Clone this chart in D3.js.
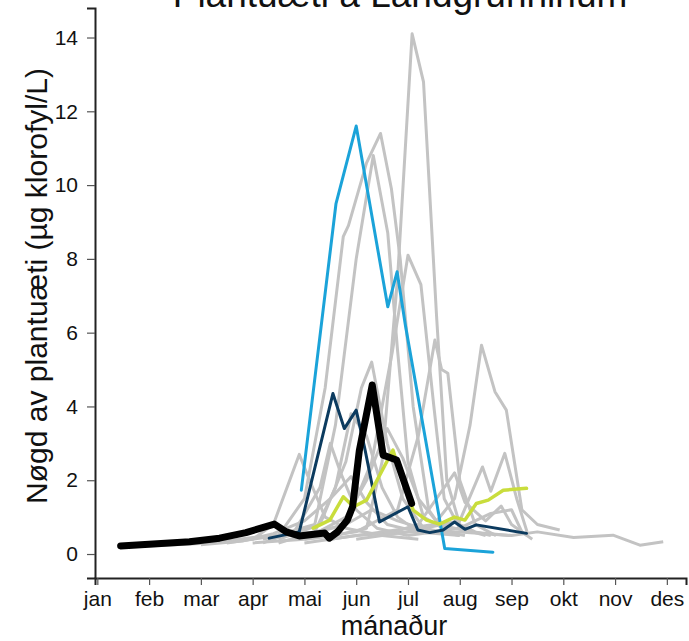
<!DOCTYPE html>
<html><head><meta charset="utf-8">
<script src="https://cdn.jsdelivr.net/npm/d3@7"></script>
<style>
html,body{margin:0;padding:0;background:#fff;}
svg{display:block;font-family:"Liberation Sans",Arial,sans-serif;}
</style></head>
<body>
<svg id="chart" width="689" height="641"></svg>
<script>
const title = "Plantuæti á Landgrunninum";
const yTitle = "Nøgd av plantuæti (µg klorofyl/L)";
const xTitle = "mánaður";
const monthLabels = ["jan","feb","mar","apr","mai","jun","jul","aug","sep","okt","nov","des"];
const yTicks = [0,2,4,6,8,10,12,14];

// series: [month (1 = jan), chlorophyll]
const gray01 = [[4.0,0.3],[5.0,0.4],[5.6,0.5],[6.2,0.7],[6.5,2.5],[6.8,7.5],[7.08,14.1],[7.3,12.8],[7.55,6.5],[7.75,2.0],[8.0,0.8],[8.3,0.6],[8.6,0.5]];
const gray02 = [[3.5,0.3],[4.5,0.5],[5.0,1.5],[5.4,4.5],[5.75,8.6],[5.85,8.9],[6.2,10.6],[6.47,11.4],[6.68,9.9],[6.85,8.0],[7.1,4.0],[7.4,1.2],[7.7,0.6],[8.1,0.5]];
const gray03 = [[4.2,0.4],[5.2,0.8],[5.6,3.5],[6.0,8.0],[6.33,10.8],[6.61,8.7],[6.8,5.5],[7.0,2.5],[7.3,1.0],[7.8,0.6]];
const gray04 = [[5.0,0.5],[5.8,0.8],[6.3,2.5],[6.7,5.5],[7.0,8.1],[7.25,7.3],[7.5,4.0],[7.7,1.5],[8.0,0.7],[8.5,0.5]];
const gray05 = [[5.5,0.4],[6.5,0.6],[7.5,0.8],[7.9,1.5],[8.2,3.5],[8.42,5.66],[8.68,4.4],[8.9,3.9],[9.2,1.2],[9.5,0.8],[9.93,0.65]];
const gray06 = [[5.0,0.3],[6.0,0.5],[7.0,0.6],[8.0,0.6],[9.0,0.5],[9.5,0.6],[10.2,0.45],[10.96,0.51],[11.48,0.24],[11.93,0.33]];
const gray07 = [[3.0,0.3],[4.0,0.4],[4.4,0.8],[4.9,2.7],[5.1,2.0],[5.4,1.0],[5.8,0.7],[6.5,0.5],[7.2,0.4]];
const gray08 = [[5.0,0.4],[6.0,0.6],[6.8,1.2],[7.2,3.2],[7.52,5.8],[7.65,5.0],[7.77,4.9],[8.0,2.0],[8.3,0.8],[8.7,0.5]];
const gray09 = [[6.0,0.4],[7.0,0.6],[8.0,0.9],[8.44,2.36],[8.6,1.7],[8.87,2.73],[9.1,1.5],[9.3,0.6]];
const gray10 = [[4.5,0.4],[5.3,0.8],[5.8,2.5],[6.1,4.5],[6.3,5.2],[6.6,3.0],[6.9,1.5],[7.3,0.7],[8.0,0.5]];
const gray11 = [[4.5,0.3],[5.2,0.6],[5.6,1.8],[5.9,3.8],[6.2,3.2],[6.5,1.8],[6.8,1.0],[7.2,0.6],[8.0,0.5]];
const gray12 = [[5.0,0.4],[5.8,1.0],[6.2,2.0],[6.6,3.4],[6.9,2.6],[7.2,1.5],[7.6,0.8],[8.2,0.6],[9.0,0.5]];
const gray13 = [[4.2,0.3],[4.8,0.6],[5.3,1.8],[5.5,3.0],[5.7,2.2],[6.0,1.2],[6.4,0.7],[7.0,0.5]];
const gray14 = [[6.5,0.5],[7.2,0.8],[7.6,1.6],[7.9,2.2],[8.1,1.4],[8.5,0.9],[8.8,1.3],[9.0,0.8],[9.3,0.5]];
const gray15 = [[7.0,0.5],[8.0,0.7],[8.6,1.1],[9.0,1.2],[9.2,0.6],[9.4,0.4]];
const gray16 = [[1.6,0.2],[2.5,0.25],[3.2,0.3],[4.0,0.45],[4.6,0.5],[5.2,0.6],[5.8,0.8],[6.3,1.2],[6.8,0.9],[7.5,0.6]];
const gray17 = [[3.0,0.25],[3.8,0.35],[4.4,0.55],[5.0,0.9],[5.5,1.5],[5.9,2.1],[6.2,1.4],[6.6,0.8],[7.2,0.6]];

const lightBlue = [[4.94,1.73],[5.61,9.5],[6.0,11.6],[6.61,6.7],[6.79,7.65],[6.95,6.2],[7.71,0.15],[8.64,0.05]];
const navy = [[4.32,0.43],[4.9,0.6],[5.55,4.35],[5.77,3.4],[6.0,3.9],[6.16,2.9],[6.45,0.87],[7.0,1.28],[7.19,0.65],[7.42,0.58],[7.68,0.65],[7.9,0.87],[8.1,0.67],[8.32,0.79],[9.29,0.56]];
const yellowGreen = [[5.17,0.7],[5.49,0.92],[5.75,1.55],[5.95,1.28],[6.2,1.46],[6.71,2.82],[6.8,2.4],[7.1,1.19],[7.36,0.92],[7.61,0.81],[7.9,1.0],[8.1,0.92],[8.32,1.37],[8.55,1.46],[8.84,1.73],[9.29,1.78]];
const black = [[1.45,0.22],[2.78,0.33],[3.36,0.43],[3.87,0.58],[4.42,0.81],[4.65,0.6],[4.9,0.49],[5.39,0.57],[5.48,0.43],[5.64,0.6],[5.83,0.92],[5.93,1.28],[6.06,2.8],[6.31,4.58],[6.52,2.68],[6.78,2.55],[7.07,1.37]];

const grays = [gray01,gray02,gray03,gray04,gray05,gray06,gray07,gray08,gray09,gray10,gray11,gray12,gray13,gray14,gray15,gray16,gray17];

const svg = d3.select("#chart");
const x = d3.scaleLinear().domain([0.955, 12.37]).range([95, 686]);
const y = d3.scaleLinear().domain([-0.65, 14.8]).range([578, 8]);

const line = d3.line().x(d => x(d[0])).y(d => y(d[1]));

const g = svg.append("g");
grays.forEach(s => g.append("path").datum(s).attr("d", line)
  .attr("fill","none").attr("stroke","#c3c3c3").attr("stroke-width",3).attr("stroke-linejoin","round"));

[[lightBlue,"#1ba3d9",3],[navy,"#0c3b5f",3],[yellowGreen,"#c9dd3c",3.5],[black,"#000000",7]].forEach(([s,c,w]) =>
  g.append("path").datum(s).attr("d", line).attr("fill","none").attr("stroke",c)
   .attr("stroke-width",w).attr("stroke-linejoin","round").attr("stroke-linecap","round"));

// axes
const xAxis = d3.axisBottom(x).tickValues(d3.range(1,13)).tickFormat(d => monthLabels[d-1]).tickSizeOuter(0).tickSize(7).tickPadding(6);
const yAxis = d3.axisLeft(y).tickValues(yTicks).tickSizeOuter(0).tickSize(8).tickPadding(9);

const gx = svg.append("g").attr("transform","translate(0,578)").call(xAxis);
const gy = svg.append("g").attr("transform","translate(95,0)").call(yAxis);
[gx,gy].forEach(a => {
  a.select(".domain").attr("stroke","#222").attr("stroke-width",2);
  a.selectAll(".tick line").attr("stroke","#555").attr("stroke-width",1.2);
  a.selectAll(".tick text").attr("fill","#111").style("font-size","21px").style("font-family","'Liberation Sans',Arial,sans-serif");
});

svg.append("text").attr("x",400).attr("y",7).attr("text-anchor","middle")
  .style("font-size","37px").attr("fill","#111").text(title);
svg.append("text").attr("x",394).attr("y",635).attr("text-anchor","middle")
  .style("font-size","27px").attr("fill","#111").text(xTitle);
svg.append("text").attr("transform","translate(47,286) rotate(-90)").attr("text-anchor","middle")
  .style("font-size","30px").attr("fill","#111").text(yTitle);
</script>
</body></html>
